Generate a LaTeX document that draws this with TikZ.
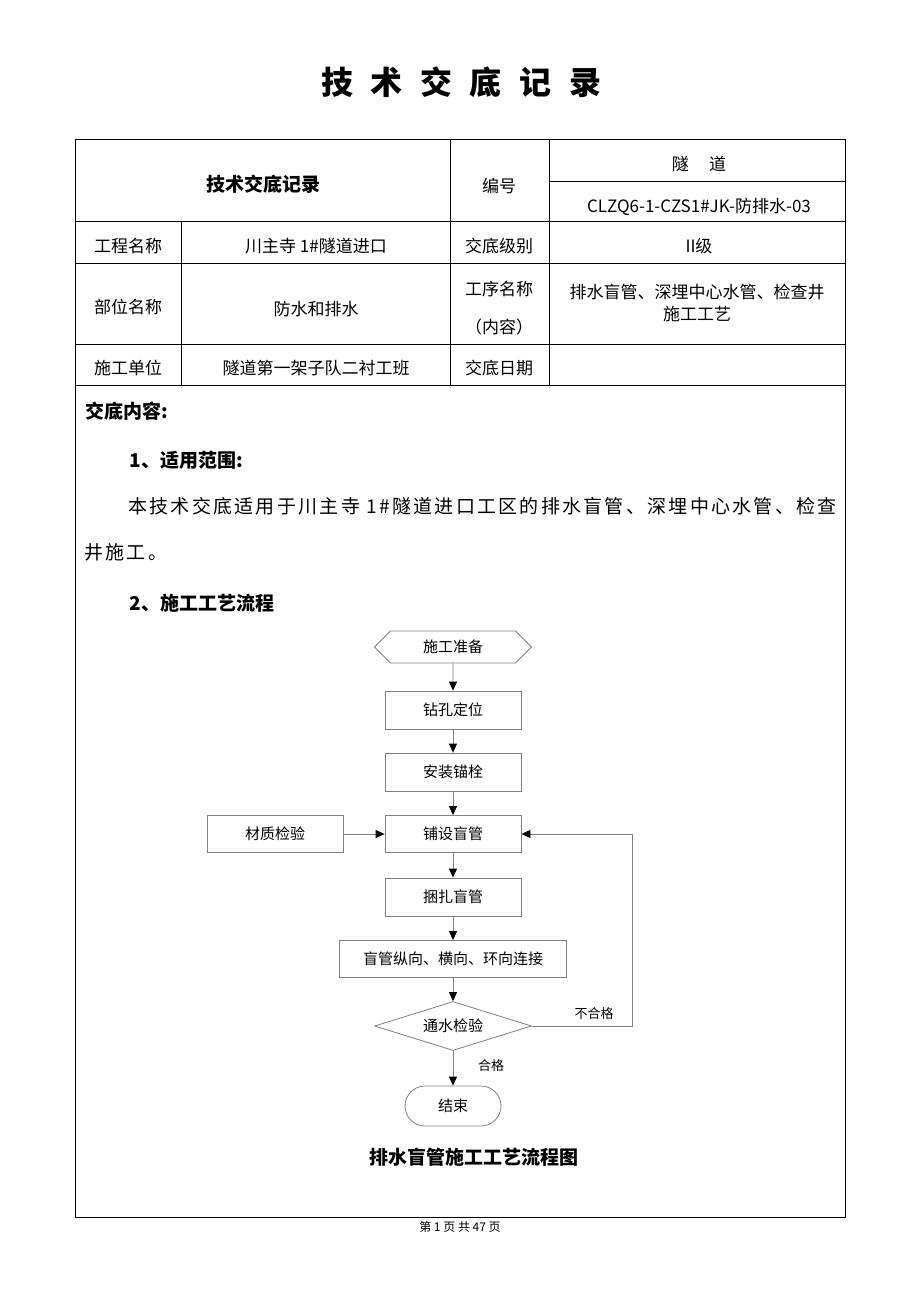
\documentclass[tikz,border=0pt]{standalone}
\usepackage{fontspec}
\setmainfont{Noto Sans CJK SC}
\newfontfamily\bodyfont{Noto Sans CJK SC}[LetterSpace=12]
\usetikzlibrary{arrows.meta,shapes.geometric,shapes.symbols,shapes.misc}
\definecolor{linegray}{RGB}{128,128,128}
\tikzset{
  cell/.style={font=\fontsize{17}{20}\selectfont},
  flowbox/.style={draw=linegray,line width=0.8pt,minimum width=136pt,minimum height=38pt,font=\fontsize{15}{18}\selectfont,inner sep=2pt},
  flowline/.style={draw=linegray,line width=0.8pt,-{Triangle[length=9pt,width=8pt,color=black]}},
  flowlabel/.style={font=\fontsize{13}{16}\selectfont}
}
\begin{document}
\begin{tikzpicture}[x=1pt,y=-1pt]
\useasboundingbox (0,0) rectangle (920,1302);

%Title
\node (title) at (461,82) {\fontsize{32}{36}\selectfont\bfseries 技\hspace{0.55em}术\hspace{0.55em}交\hspace{0.55em}底\hspace{0.55em}记\hspace{0.55em}录};

%Shape: outer frame
\draw [line width=1pt] (75,139) -- (845,139) -- (845,1217) -- (75,1217) -- cycle ;
%Straight Lines: rows
\draw [line width=0.8pt] (75,221) -- (845,221) ;
\draw [line width=0.8pt] (75,263) -- (845,263) ;
\draw [line width=0.8pt] (75,344) -- (845,344) ;
\draw [line width=0.8pt] (75,385) -- (845,385) ;
\draw [line width=0.8pt] (549,181) -- (845,181) ;
%Straight Lines: columns
\draw [line width=0.8pt] (450,139) -- (450,385) ;
\draw [line width=0.8pt] (549,139) -- (549,385) ;
\draw [line width=0.8pt] (181,221) -- (181,385) ;

% Text Node
\node (head) at (263,184) {\fontsize{19}{22}\selectfont\bfseries 技术交底记录};
\node [cell] (num) at (499,186) {编号};
\node [cell] (tun) at (699,164) {隧\hspace{1.2em}道};
\node [cell] (code) at (699,207) {CLZQ6-1-CZS1\#JK-防排水-03};
% Text Node
\node [cell] (pname) at (128,246) {工程名称};
\node [cell] (pval) at (316,246) {川主寺 1\#隧道进口};
\node [cell] (lname) at (499,246) {交底级别};
\node [cell] (lval) at (699,246) {II级};
% Text Node
\node [cell] (sname) at (128,307) {部位名称};
\node [cell] (sval) at (316,309) {防水和排水};
\node [cell] (wname) at (499,289) {工序名称};
\node [cell] (wsub) at (499,327) {（内容）};
\node [cell,align=center] (wval) at (697,303) {排水盲管、深埋中心水管、检查井\\[2pt]施工工艺};
% Text Node
\node [cell] (uname) at (128,368) {施工单位};
\node [cell] (uval) at (316,368) {隧道第一架子队二衬工班};
\node [cell] (dname) at (499,368) {交底日期};

% Body text
\node [anchor=west,font=\fontsize{19}{22}\selectfont\bfseries] (sec0) at (82,411) {交底内容:};
\node [anchor=west,font=\fontsize{19}{22}\selectfont\bfseries] (sec1) at (126,460) {1、适用范围:};
\node [anchor=west,font=\fontsize{19}{22}\bodyfont,inner sep=0pt] (par1) at (128,506) {本技术交底适用于川主寺 1\#隧道进口工区的排水盲管、深埋中心水管、检查};
\node [anchor=west,font=\fontsize{19}{22}\bodyfont,inner sep=0pt] (par2) at (84,552) {井施工。};
\node [anchor=west,font=\fontsize{19}{22}\selectfont\bfseries] (sec2) at (126,603) {2、施工工艺流程};

% Flow chart
\node [flowbox,shape=signal,signal to=west and east,minimum width=157pt,minimum height=32pt] (prep) at (453,647) {施工准备};
\node [flowbox] (drill) at (453,710) {钻孔定位};
\node [flowbox] (bolt) at (453,772) {安装锚栓};
\node [flowbox,minimum height=37pt] (lay) at (453,834) {铺设盲管};
\node [flowbox,minimum height=37pt] (mat) at (275,834) {材质检验};
\node [flowbox] (tie) at (453,897) {捆扎盲管};
\node [flowbox,minimum width=227pt,minimum height=37pt] (join) at (453,959) {盲管纵向、横向、环向连接};
\node [flowbox,shape=diamond,aspect=3.2,minimum width=157pt,minimum height=49pt,inner sep=0pt] (check) at (453,1026) {通水检验};
\node [flowbox,shape=rounded rectangle,minimum width=100pt,minimum height=40pt] (done) at (453,1106) {结束};
\coordinate (back) at (632,1026);

\draw [flowline] (prep) -- (drill);
\draw [flowline] (drill) -- (bolt);
\draw [flowline] (bolt) -- (lay);
\draw [flowline] (mat) -- (lay);
\draw [flowline] (lay) -- (tie);
\draw [flowline] (tie) -- (join);
\draw [flowline] (join) -- (check);
\draw [flowline] (check) -- (done);
\draw [flowline] (check.east) -- (back) |- (lay.east);

\node [flowlabel] (fail) at (594,1014) {不合格};
\node [flowlabel] (pass) at (491,1066) {合格};

\node [font=\fontsize{19}{22}\selectfont\bfseries] (caption) at (474,1157) {排水盲管施工工艺流程图};

% Page number
\node [font=\fontsize{12}{14}\selectfont] (page) at (460,1227) {第\ 1\ 页\ 共\ 47\ 页};
\end{tikzpicture}
\end{document}
